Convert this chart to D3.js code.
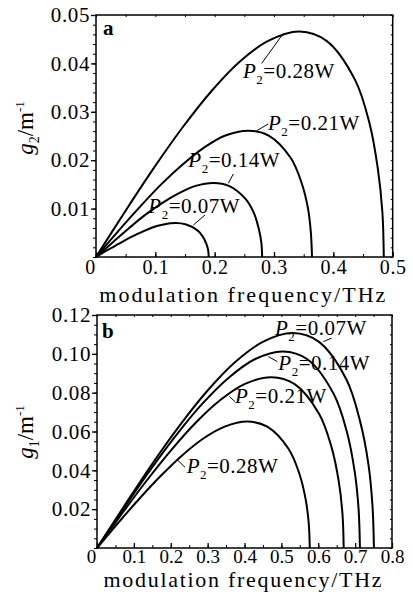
<!DOCTYPE html>
<html>
<head>
<meta charset="utf-8">
<script src="https://cdn.jsdelivr.net/npm/d3@7"></script>
<style>
  body { margin: 0; background: #fff; }
  svg { display: block; }
  text { font-family: "Liberation Serif", "Times New Roman", serif; fill: #000; }
</style>
</head>
<body>
<div id="chart"></div>
<script>
// ---- data ----
// panel a: g2 vs modulation frequency (THz)
const aPowers = ['0.07', '0.14', '0.21', '0.28'];
const aFreq007 = [0, 0.019, 0.038, 0.057, 0.076, 0.095, 0.114, 0.134, 0.152, 0.171, 0.18, 0.186, 0.189, 0.19];
const aGain007 = [0, 0.0014, 0.0027, 0.0040, 0.0051, 0.0061, 0.0067, 0.0070, 0.0067, 0.0055, 0.0042, 0.0027, 0.0014, 0];
const aFreq014 = [0, 0.028, 0.056, 0.084, 0.112, 0.14, 0.168, 0.198, 0.224, 0.252, 0.266, 0.274, 0.2786, 0.28];
const aGain014 = [0, 0.0030, 0.0060, 0.0088, 0.0112, 0.0132, 0.0147, 0.0153, 0.0147, 0.0120, 0.0091, 0.0060, 0.0030, 0];
const aFreq021 = [0, 0.0364, 0.0728, 0.109, 0.146, 0.182, 0.218, 0.257, 0.291, 0.328, 0.346, 0.357, 0.362, 0.364];
const aGain021 = [0, 0.0052, 0.0102, 0.0149, 0.0191, 0.0226, 0.0251, 0.0261, 0.0251, 0.0205, 0.0155, 0.0102, 0.0052, 0];
const aFreq028 = [0, 0.0485, 0.097, 0.1455, 0.194, 0.2425, 0.291, 0.343, 0.388, 0.4365, 0.461, 0.475, 0.4826, 0.485];
const aGain028 = [0, 0.0093, 0.0183, 0.0267, 0.0342, 0.0404, 0.0447, 0.0466, 0.0447, 0.0366, 0.0276, 0.0182, 0.0093, 0];

// panel b: g1 vs modulation frequency (THz)
const bPowers = ['0.07', '0.14', '0.21', '0.28'];
const bFreq007 = [0, 0.0751, 0.150, 0.225, 0.300, 0.3755, 0.451, 0.531, 0.601, 0.676, 0.713, 0.736, 0.747, 0.751];
const bGain007 = [0, 0.0220, 0.0434, 0.0633, 0.0811, 0.0959, 0.1063, 0.1107, 0.1063, 0.0869, 0.0656, 0.0432, 0.0220, 0];
const bFreq014 = [0, 0.0713, 0.1426, 0.2139, 0.2852, 0.3565, 0.4278, 0.5042, 0.5704, 0.6417, 0.6774, 0.6987, 0.7094, 0.713];
const bGain014 = [0, 0.0201, 0.0397, 0.0579, 0.0742, 0.0876, 0.0972, 0.1012, 0.0972, 0.0794, 0.0600, 0.0395, 0.0201, 0];
const bFreq021 = [0, 0.0669, 0.1338, 0.2007, 0.2676, 0.3345, 0.4014, 0.4731, 0.5352, 0.6021, 0.6356, 0.6556, 0.6657, 0.669];
const bGain021 = [0, 0.0175, 0.0345, 0.0503, 0.0645, 0.0762, 0.0845, 0.0880, 0.0845, 0.0691, 0.0522, 0.0343, 0.0175, 0];
const bFreq028 = [0, 0.0577, 0.1154, 0.1731, 0.2308, 0.2885, 0.3462, 0.408, 0.4616, 0.5193, 0.5482, 0.5655, 0.5741, 0.577];
const bGain028 = [0, 0.0130, 0.0255, 0.0372, 0.0477, 0.0564, 0.0625, 0.0651, 0.0625, 0.0511, 0.0386, 0.0254, 0.0130, 0];

// tick labels
const aXTicks = [0, 0.1, 0.2, 0.3, 0.4, 0.5];
const aYTicks = [0.01, 0.02, 0.03, 0.04, 0.05];
const bXTicks = [0, 0.1, 0.2, 0.3, 0.4, 0.5, 0.6, 0.7, 0.8];
const bYTicks = [0.02, 0.04, 0.06, 0.08, 0.10, 0.12];

const W = 413, H = 599;

const svg = d3.select('#chart').append('svg')
    .attr('width', W)
    .attr('height', H);

svg.append('rect').attr('width', W).attr('height', H).attr('fill', '#fff');

function zip(fs, gs) {
    return fs.map((f, i) => [f, gs[i]]);
}

function drawPanel(cfg) {
    const x = d3.scaleLinear().domain(cfg.xDomain).range([cfg.left, cfg.right]);
    const y = d3.scaleLinear().domain(cfg.yDomain).range([cfg.bottom, cfg.top]);
    const g = svg.append('g');

    // minor ticks on all four sides
    const xMinors = d3.range(cfg.xDomain[0], cfg.xDomain[1] + 1e-9, cfg.xMinor);
    const yMinors = d3.range(cfg.yDomain[0], cfg.yDomain[1] + 1e-9, cfg.yMinor);
    g.append('g')
        .attr('transform', `translate(${cfg.left},0)`)
        .call(d3.axisLeft(y).tickValues(yMinors).tickSize(3).tickFormat(''))
        .call(s => s.select('.domain').remove());
    g.append('g')
        .attr('transform', `translate(0,${cfg.bottom})`)
        .call(d3.axisBottom(x).tickValues(xMinors).tickSize(-3).tickFormat(''))
        .call(s => s.select('.domain').remove());
    g.append('g')
        .attr('transform', `translate(0,${cfg.top})`)
        .call(d3.axisTop(x).tickValues(xMinors).tickSize(-2).tickFormat(''))
        .call(s => s.select('.domain').remove());
    g.append('g')
        .attr('transform', `translate(${cfg.right},0)`)
        .call(d3.axisRight(y).tickValues(yMinors).tickSize(-2).tickFormat(''))
        .call(s => s.select('.domain').remove());

    // major ticks + labels
    const yAx = g.append('g')
        .attr('transform', `translate(${cfg.left},0)`)
        .call(d3.axisLeft(y).tickValues(cfg.yTicks).tickSize(5).tickPadding(1).tickFormat(d3.format('.2f')));
    const xAx = g.append('g')
        .attr('transform', `translate(0,${cfg.bottom})`)
        .call(d3.axisBottom(x).tickValues(cfg.xTicks).tickSize(-5).tickPadding(cfg.xTickPad)
            .tickFormat(d => d === 0 ? '0' : d3.format('.1f')(d)));
    [yAx, xAx].forEach(ax => {
        ax.select('.domain').remove();
        ax.selectAll('.tick line').attr('stroke', '#000').attr('stroke-width', 1.3);
        ax.selectAll('text')
            .attr('font-family', '"Liberation Serif", serif')
            .attr('font-size', 21)
            .style('letter-spacing', '0.6px')
            .attr('fill', '#000');
    });
    xAx.selectAll('text')
        .attr('font-size', cfg.xTickFont)
        .style('letter-spacing', cfg.xTickSpacing);
    xAx.selectAll('text').filter(d => d === 0).attr('dx', -6);
    g.selectAll('.tick line').attr('stroke', '#000');

    // frame
    g.append('rect')
        .attr('x', cfg.left).attr('y', cfg.top)
        .attr('width', cfg.right - cfg.left).attr('height', cfg.bottom - cfg.top)
        .attr('fill', 'none').attr('stroke', '#000').attr('stroke-width', 1.5);

    // curves
    const line = d3.line()
        .x(d => x(d[0]))
        .y(d => y(d[1]))
        .curve(d3.curveCatmullRom.alpha(0.5));
    g.selectAll('path.curve')
        .data(cfg.series)
        .join('path')
        .attr('class', 'curve')
        .attr('d', d => line(d.points))
        .attr('fill', 'none')
        .attr('stroke', '#000')
        .attr('stroke-width', 2);

    // curve labels with leaders
    cfg.series.forEach(s => {
        const L = s.label;
        g.append('line')
            .attr('x1', x(L.lead[0])).attr('y1', y(L.lead[1]))
            .attr('x2', x(L.lead[2])).attr('y2', y(L.lead[3]))
            .attr('stroke', '#000').attr('stroke-width', 1);
        const t = g.append('text')
            .attr('x', x(L.at[0])).attr('y', y(L.at[1]))
            .attr('font-size', 21)
            .style('letter-spacing', '0.5px');
        t.append('tspan').attr('font-style', 'italic').text('P');
        t.append('tspan').attr('font-size', 13).attr('dy', 6).text('2');
        t.append('tspan').attr('dy', -6).text(`=${s.power}W`);
    });

    // panel letter
    g.append('text')
        .attr('x', x(cfg.letterAt[0])).attr('y', y(cfg.letterAt[1]))
        .attr('font-size', 21).attr('font-weight', 'bold')
        .text(cfg.letter);

    // x title
    g.append('text')
        .attr('x', (cfg.left + cfg.right) / 2 - 2)
        .attr('y', cfg.xTitleY)
        .attr('text-anchor', 'middle')
        .attr('font-size', cfg.xTitleFont)
        .attr('textLength', cfg.xTitleLen)
        .attr('lengthAdjust', 'spacing')
        .text('modulation frequency/THz');

    // y title (rotated)
    const yt = g.append('text')
        .attr('transform', `translate(${cfg.yTitleX},${cfg.yTitleY}) rotate(-90)`)
        .attr('text-anchor', 'middle')
        .attr('font-size', 23);
    yt.append('tspan').attr('font-style', 'italic').text('g');
    yt.append('tspan').attr('font-size', 14).attr('dy', 6).text(cfg.ySub);
    yt.append('tspan').attr('dy', -6).text('/m');
    yt.append('tspan').attr('font-size', 13).attr('dy', -9).text('-1');
}

drawPanel({
    letter: 'a',
    left: 96, right: 392.7, top: 15, bottom: 257,
    xDomain: [0, 0.5], yDomain: [0, 0.05],
    xTicks: aXTicks, yTicks: aYTicks,
    xMinor: 0.05, yMinor: 0.002,
    xTickFont: 20, xTickSpacing: '0.6px', xTickPad: 3,
    letterAt: [0.0118, 0.0458],
    xTitleY: 302, xTitleLen: 286, xTitleFont: 22,
    yTitleX: 33, yTitleY: 128, ySub: '2',
    series: [
        { power: aPowers[0], points: zip(aFreq007, aGain007),
          label: { at: [0.0882, 0.00903], lead: [0.164, 0.0066, 0.1837, 0.00868] } },
        { power: aPowers[1], points: zip(aFreq014, aGain014),
          label: { at: [0.1556, 0.01866], lead: [0.2230, 0.01523, 0.2314, 0.01715] } },
        { power: aPowers[2], points: zip(aFreq021, aGain021),
          label: { at: [0.2899, 0.0262], lead: [0.2708, 0.0261, 0.2904, 0.0275] } },
        { power: aPowers[3], points: zip(aFreq028, aGain028),
          label: { at: [0.2477, 0.0370], lead: [0.2792, 0.0400, 0.3157, 0.0462] } }
    ]
});

drawPanel({
    letter: 'b',
    left: 97, right: 392, top: 315, bottom: 548,
    xDomain: [0, 0.8], yDomain: [0, 0.12],
    xTicks: bXTicks, yTicks: bYTicks,
    xMinor: 0.05, yMinor: 0.005,
    xTickFont: 19, xTickSpacing: '0px', xTickPad: 1,
    letterAt: [0.0136, 0.1082],
    xTitleY: 587, xTitleLen: 278, xTitleFont: 22,
    yTitleX: 33, yTitleY: 432, ySub: '1',
    series: [
        { power: bPowers[0], points: zip(bFreq007, bGain007),
          label: { at: [0.4827, 0.1098], lead: [0.6137, 0.1063, 0.6365, 0.1081] } },
        { power: bPowers[1], points: zip(bFreq014, bGain014),
          label: { at: [0.4918, 0.0918], lead: [0.4646, 0.0986, 0.4890, 0.0960] } },
        { power: bPowers[2], points: zip(bFreq021, bGain021),
          label: { at: [0.3742, 0.0746], lead: [0.3589, 0.0780, 0.3742, 0.0754] } },
        { power: bPowers[3], points: zip(bFreq028, bGain028),
          label: { at: [0.2432, 0.0385], lead: [0.2178, 0.0454, 0.2386, 0.0416] } }
    ]
});
</script>
</body>
</html>
